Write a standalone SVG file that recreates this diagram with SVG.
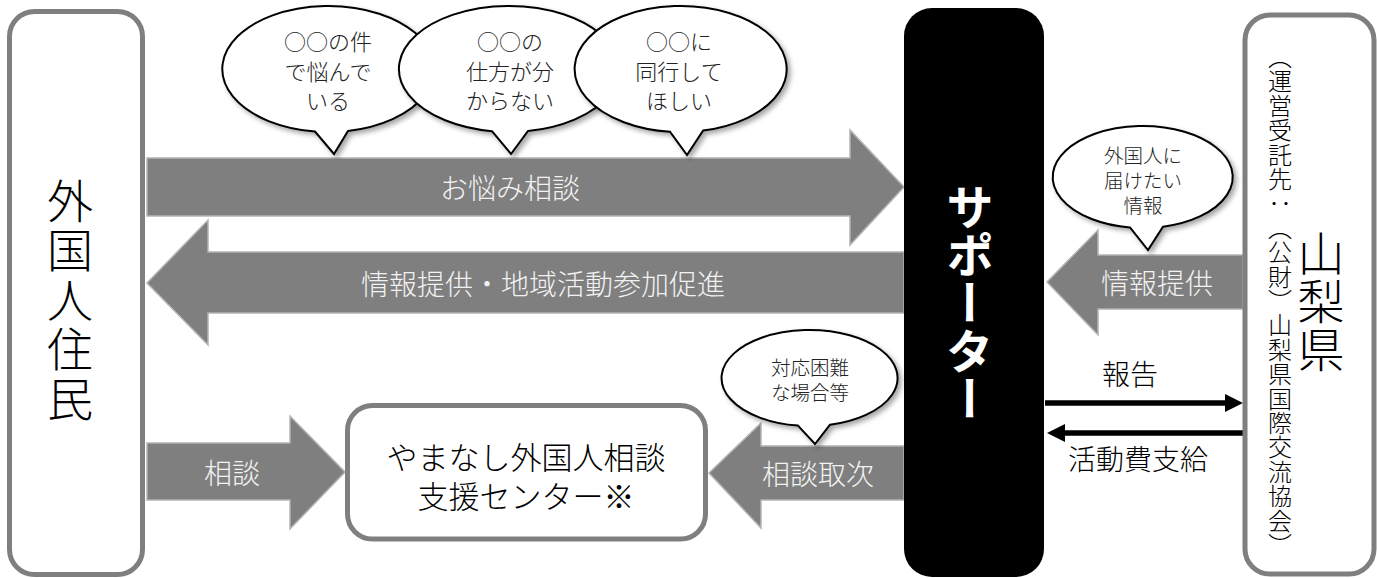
<svg xmlns="http://www.w3.org/2000/svg" width="1377" height="578" viewBox="0 0 1377 578">
<style>
text{font-family:"Noto Sans CJK JP","Noto Sans CJK SC",sans-serif;text-spacing-trim:space-all;}
.box{fill:#fff;stroke:#7f7f7f;stroke-width:5;}
.big{fill:#000;stroke:none;}
.arr{fill:#7f7f7f;stroke:#b4b4b4;stroke-width:1.5;}
.alab{fill:#f2f2f2;font-size:28px;font-weight:300;text-anchor:middle;dominant-baseline:central;}
.bub{fill:#fff;stroke:#000;stroke-width:2;filter:url(#sh);}
.btxt{fill:#222;font-size:22px;font-weight:300;text-anchor:middle;dominant-baseline:central;}
.btxs{fill:#222;font-size:19.5px;font-weight:300;text-anchor:middle;dominant-baseline:central;}
.vt{writing-mode:vertical-rl;text-anchor:middle;}
.lab{fill:#000;font-size:28px;font-weight:300;text-anchor:middle;dominant-baseline:central;}
.clab{fill:#000;font-size:31px;font-weight:300;text-anchor:middle;dominant-baseline:central;}
.line{stroke:#000;stroke-width:5.5;fill:none;}
</style>
<defs>
<filter id="sh" x="-20%" y="-20%" width="140%" height="150%">
<feDropShadow dx="3" dy="3" stdDeviation="2.5" flood-color="#000" flood-opacity="0.35"/>
</filter>
<marker id="ah" markerUnits="userSpaceOnUse" markerWidth="20" markerHeight="20" refX="5" refY="9" orient="auto">
<path d="M0,0 L18,9 L0,18 Z" fill="#000"/>
</marker>
</defs>

<g id="connectors">
<g id="arrow-onayami">
<polygon class="arr" points="147,158 850,158 850,130 904,187 850,245 850,216 147,216"/>
<text class="alab" x="510" y="187">お悩み相談</text>
</g>
<g id="arrow-joho">
<polygon class="arr" points="147,283 208,220 208,252 904,252 904,313 208,313 208,345"/>
<text class="alab" x="543" y="283">情報提供・地域活動参加促進</text>
</g>
<g id="arrow-sodan">
<polygon class="arr" points="147,443 290,443 290,416 345,472 290,529 290,500 147,500"/>
<text class="alab" x="232" y="472">相談</text>
</g>
<g id="arrow-toritsugi">
<polygon class="arr" points="709,473 761,423 761,446 904,446 904,500 761,500 761,528"/>
<text class="alab" x="818" y="473">相談取次</text>
</g>
<g id="arrow-joho2">
<polygon class="arr" points="1047,282 1098,230 1098,255 1243,255 1243,309 1098,309 1098,335"/>
<text class="alab" x="1157" y="282">情報提供</text>
</g>
<g id="arrow-hokoku">
<line class="line" x1="1045" y1="403" x2="1230" y2="403" marker-end="url(#ah)"/>
<text class="lab" x="1130" y="373">報告</text>
</g>
<g id="arrow-katsudohi">
<line class="line" x1="1243" y1="433" x2="1060" y2="433" marker-end="url(#ah)"/>
<text class="lab" x="1138" y="458">活動費支給</text>
</g>
</g>

<g id="residents">
<rect class="box" x="9.5" y="11.5" width="133" height="563" rx="25"/>
<text class="vt" x="70" y="301" font-size="46" font-weight="300" letter-spacing="3.5" fill="#000">外国人住民</text>
</g>

<g id="supporter">
<rect class="big" x="904" y="8" width="140" height="569" rx="28"/>
<text class="vt" x="970" y="303" font-size="48" font-weight="bold" fill="#fff">サポーター</text>
</g>

<g id="prefecture">
<rect class="box" x="1245" y="15" width="129" height="559" rx="25"/>
<text class="vt" x="1280" y="301" font-size="24" font-weight="300" letter-spacing="0.4" fill="#000">（運営受託先：（公財）山梨県国際交流協会）</text>
<text class="vt" x="1321" y="302" font-size="47" font-weight="300" letter-spacing="1" fill="#000">山梨県</text>
</g>

<g id="center">
<rect class="box" x="347.5" y="405.5" width="358" height="133.5" rx="25"/>
<text class="clab" x="526" y="455">やまなし外国人相談</text>
<text class="clab" x="526" y="494">支援センター※</text>
</g>

<g id="bubble1">
<path class="bub" d="M315,131.5 A106,63 0 1 1 348,130.9 L334,154 Z"/>
<text class="btxt" x="328" y="40">○○の件</text>
<text class="btxt" x="328" y="70">で悩んで</text>
<text class="btxt" x="328" y="99">いる</text>
</g>
<g id="bubble2">
<path class="bub" d="M492,131.2 A110,63 0 1 1 528,131 L511,154 Z"/>
<text class="btxt" x="510" y="40">○○の</text>
<text class="btxt" x="510" y="70">仕方が分</text>
<text class="btxt" x="510" y="99">からない</text>
</g>
<g id="bubble3">
<path class="bub" d="M670,131.7 A106,63 0 1 1 703,130.6 L687,155 Z"/>
<text class="btxt" x="679" y="40">○○に</text>
<text class="btxt" x="679" y="70">同行して</text>
<text class="btxt" x="679" y="99">ほしい</text>
</g>
<g id="bubble4">
<path class="bub" d="M1130,227.5 A90,51 0 1 1 1163,226.7 L1148,250 Z"/>
<text class="btxs" x="1143" y="154">外国人に</text>
<text class="btxs" x="1143" y="179">届けたい</text>
<text class="btxs" x="1143" y="204">情報</text>
</g>
<g id="bubble5">
<path class="bub" d="M798,425.6 A88,48 0 1 1 830,424.7 L815,444 Z"/>
<text class="btxs" x="810" y="366">対応困難</text>
<text class="btxs" x="810" y="391">な場合等</text>
</g>
</svg>
